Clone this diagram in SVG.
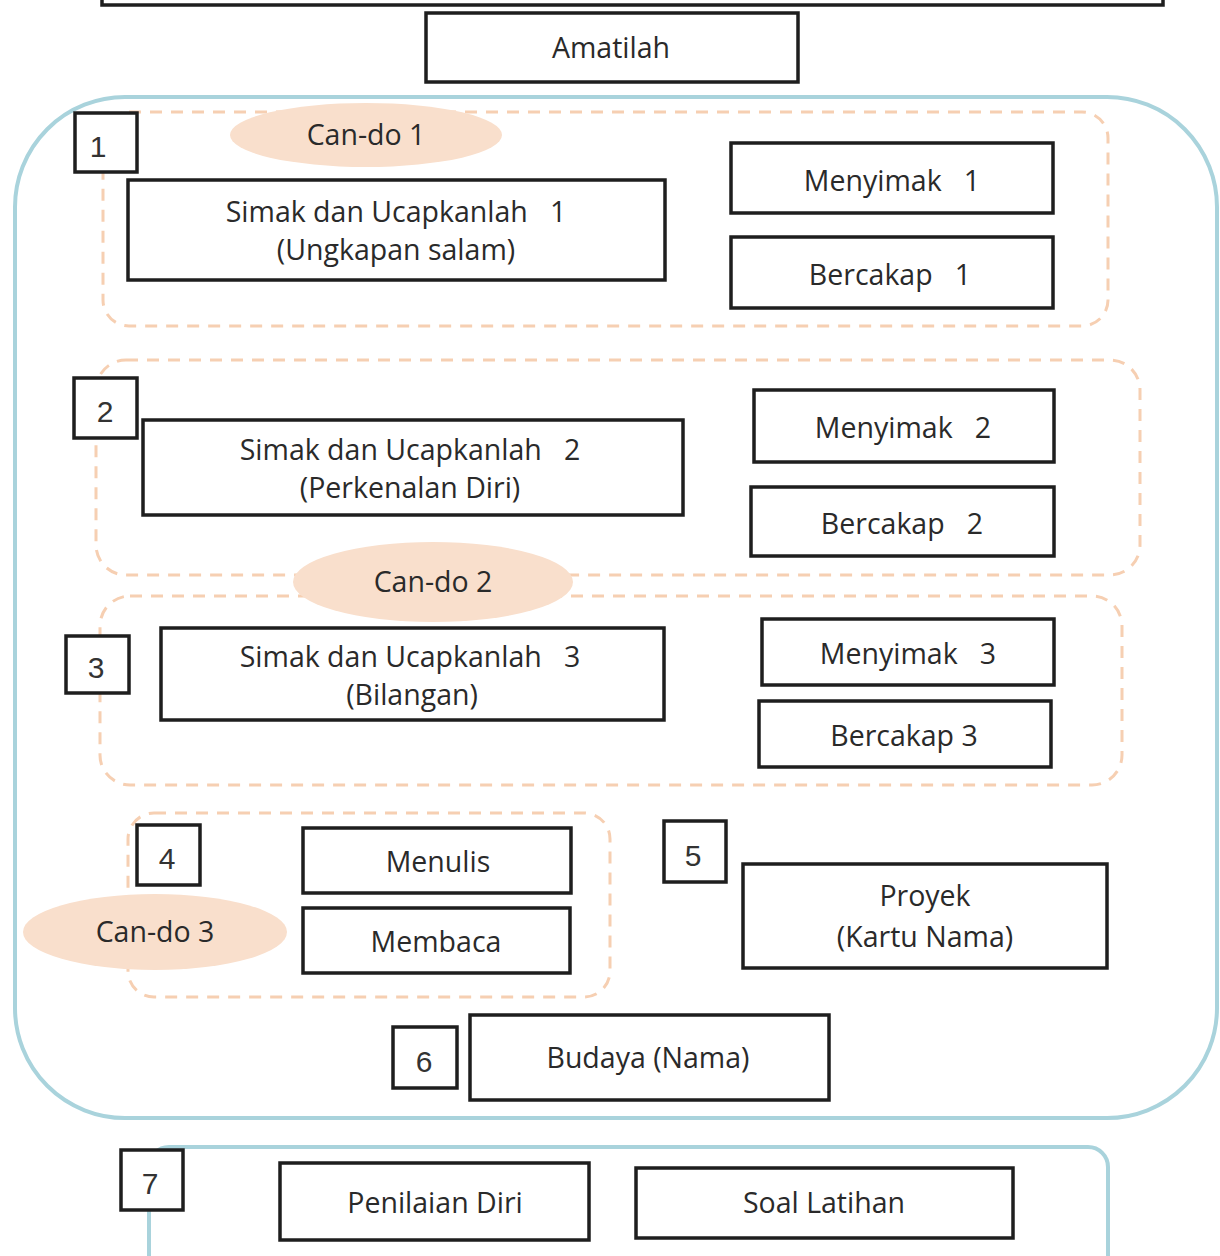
<svg xmlns="http://www.w3.org/2000/svg" width="1220" height="1256" viewBox="0 0 1220 1256">
<style>
.box{fill:#fff;stroke:#1e1e1e;stroke-width:3.5}
.num{fill:#fff;stroke:#1e1e1e;stroke-width:3.5}
.dash{fill:none;stroke:#f6cfb2;stroke-width:3;stroke-dasharray:12 9}
.blue{fill:none;stroke:#a9d3dc;stroke-width:4}
.oval{fill:#f9dfcc}
.t{font-family:"Open Sans","Noto Sans",sans-serif;font-size:28.5px;fill:#2a2a2a;text-anchor:middle;white-space:pre}
.n{font-family:"Liberation Sans",Arial,sans-serif;font-size:30px;fill:#333;text-anchor:middle}
</style>
<rect width="1220" height="1256" fill="#fff"/>
<g id="top-frame"><rect class="box" x="102" y="-30" width="1061" height="35"/></g>
<g id="amatilah"><rect class="box" x="426" y="13" width="372" height="69"/><text class="t" x="611" y="58">Amatilah</text></g>
<g id="main-frame"><rect class="blue" x="15" y="97" width="1202" height="1021" rx="110" ry="110"/></g>
<g id="group1">
<rect class="dash" x="103" y="112" width="1005" height="214" rx="26"/>
<ellipse class="oval" cx="366" cy="135" rx="136" ry="32"/>
<text class="t" x="366" y="145">Can-do 1</text>
</g>
<g id="group2">
<rect class="dash" x="96" y="360" width="1044" height="215" rx="30"/>
</g>
<g id="group3">
<rect class="dash" x="100" y="596" width="1022" height="189" rx="30"/>
</g>
<g id="cando2"><ellipse class="oval" cx="433" cy="582" rx="140" ry="40"/><text class="t" x="433" y="592">Can-do 2</text></g>
<g id="group4">
<rect class="dash" x="128" y="813" width="482" height="184" rx="26"/>
<ellipse class="oval" cx="155" cy="932" rx="132" ry="38"/>
<text class="t" x="155" y="942">Can-do 3</text>
</g>
<g id="n1"><rect class="num" x="75" y="113" width="62" height="59"/><text class="n" x="98" y="157">1</text></g>
<g id="simak1"><rect class="box" x="128" y="180" width="537" height="100"/><text class="t" x="396" y="222">Simak dan Ucapkanlah   1</text><text class="t" x="396" y="260">(Ungkapan salam)</text></g>
<g id="menyimak1"><rect class="box" x="731" y="143" width="322" height="70"/><text class="t" x="892" y="191">Menyimak   1</text></g>
<g id="bercakap1"><rect class="box" x="731" y="237" width="322" height="71"/><text class="t" x="890" y="285">Bercakap   1</text></g>
<g id="n2"><rect class="num" x="74" y="378" width="63" height="60"/><text class="n" x="105" y="422">2</text></g>
<g id="simak2"><rect class="box" x="143" y="420" width="540" height="95"/><text class="t" x="410" y="460">Simak dan Ucapkanlah   2</text><text class="t" x="410" y="498">(Perkenalan Diri)</text></g>
<g id="menyimak2"><rect class="box" x="754" y="390" width="300" height="72"/><text class="t" x="903" y="438">Menyimak   2</text></g>
<g id="bercakap2"><rect class="box" x="751" y="487" width="303" height="69"/><text class="t" x="902" y="534">Bercakap   2</text></g>
<g id="n3"><rect class="num" x="66" y="636" width="63" height="57"/><text class="n" x="96" y="678">3</text></g>
<g id="simak3"><rect class="box" x="161" y="628" width="503" height="92"/><text class="t" x="410" y="667">Simak dan Ucapkanlah   3</text><text class="t" x="412" y="705">(Bilangan)</text></g>
<g id="menyimak3"><rect class="box" x="762" y="619" width="292" height="66"/><text class="t" x="908" y="664">Menyimak   3</text></g>
<g id="bercakap3"><rect class="box" x="759" y="701" width="292" height="66"/><text class="t" x="904" y="746">Bercakap 3</text></g>
<g id="n4"><rect class="num" x="137" y="825" width="63" height="60"/><text class="n" x="167" y="869">4</text></g>
<g id="menulis"><rect class="box" x="303" y="828" width="268" height="65"/><text class="t" x="438" y="872">Menulis</text></g>
<g id="membaca"><rect class="box" x="303" y="908" width="267" height="65"/><text class="t" x="436" y="952">Membaca</text></g>
<g id="n5"><rect class="num" x="664" y="821" width="62" height="61"/><text class="n" x="693" y="866">5</text></g>
<g id="proyek"><rect class="box" x="743" y="864" width="364" height="104"/><text class="t" x="925" y="906">Proyek</text><text class="t" x="925" y="947">(Kartu Nama)</text></g>
<g id="n6"><rect class="num" x="393" y="1027" width="64" height="61"/><text class="n" x="424" y="1072">6</text></g>
<g id="budaya"><rect class="box" x="470" y="1015" width="359" height="85"/><text class="t" x="648" y="1068">Budaya (Nama)</text></g>
<g id="frame7"><rect class="blue" x="149" y="1147" width="959" height="130" rx="20"/></g>
<g id="n7"><rect class="num" x="121" y="1150" width="62" height="60"/><text class="n" x="150" y="1194">7</text></g>
<g id="penilaian"><rect class="box" x="280" y="1163" width="309" height="77"/><text class="t" x="435" y="1213">Penilaian Diri</text></g>
<g id="soal"><rect class="box" x="636" y="1168" width="377" height="70"/><text class="t" x="824" y="1213">Soal Latihan</text></g>
<g id="connectors"></g>
</svg>
